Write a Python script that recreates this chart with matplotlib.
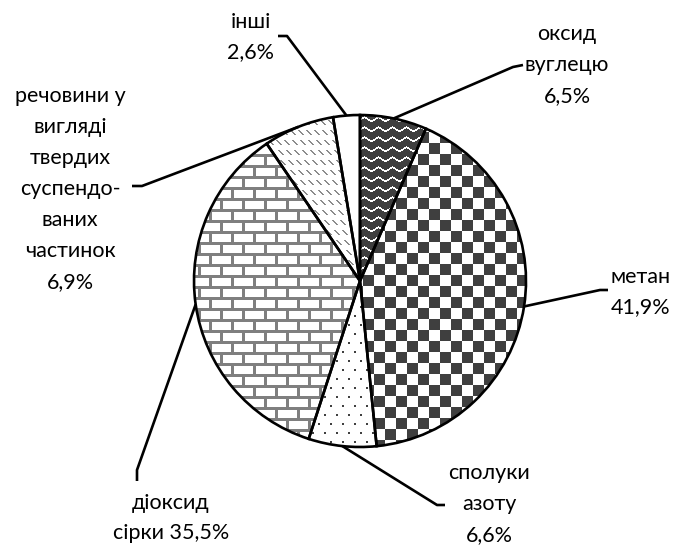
import numpy as np
import matplotlib
matplotlib.use("Agg")
import matplotlib.pyplot as plt

# data
names = ["оксид\nвуглецю", "метан", "сполуки\nазоту", "діоксид\nсірки",
         "речовини у\nвигляді\nтвердих\nсуспендо-\nваних\nчастинок", "інші"]
values = [6.5, 41.9, 6.6, 35.5, 6.9, 2.6]
joiners = ["\n", "\n", "\n", " ", "\n", "\n"]

W, H = 675, 545
cx, cy, R = 360, 281, 166   # pie centre / radius in pixels (y from top)

plt.rcParams["font.family"] = ["Lato", "DejaVu Sans"]

fig = plt.figure(figsize=(W / 100, H / 100), dpi=100)
ax = fig.add_axes([0, 0, 1, 1])


def P(x, y):
    # pixel (y from top) -> data coords
    return x, H - y


# fill patterns, built on the pixel grid
yy, xx = np.mgrid[0:H, 0:W]
dark = np.array([0.25, 0.25, 0.25])
grey = np.array([0.5, 0.5, 0.5])
white = np.array([1.0, 1.0, 1.0])


def paint(mask, fg, bg):
    img = np.empty((H, W, 3))
    img[:] = bg
    img[mask] = fg
    return img

# zigzag on dark
tri = np.abs(((xx % 14) - 7)) * 0.6
zig = ((yy + tri).astype(int) % 10) < 2
pat_zig = paint(zig, white, dark)
# checkerboard
chk = ((xx // 11) + (yy // 11)) % 2 == 0
pat_chk = paint(chk, dark, white)
# dots (staggered)
drow = yy // 9
doff = np.where(drow % 2 == 0, 0, 6)
dots = (((xx + doff) % 12) < 2) & ((yy % 9) < 2)
pat_dot = paint(dots, dark, white)
# bricks
row = yy // 11
off = np.where(row % 2 == 0, 0, 11)
brick = ((yy % 11) < 3) | (((xx + off) % 22) < 3)
pat_brk = paint(brick, grey, white)
# dashed diagonal
diag = (((xx - yy) % 8) < 2) & ((yy % 10) < 5)
pat_dia = paint(diag, np.array([0.55, 0.55, 0.55]), white)
pat_none = paint(np.zeros((H, W), bool), white, white)

patterns = [pat_zig, pat_chk, pat_dot, pat_brk, pat_dia, pat_none]

centre = P(cx, cy)
fills, _ = ax.pie(values, startangle=90, counterclock=False, center=centre,
                  radius=R, wedgeprops=dict(facecolor="white", edgecolor="none"))
for w, pat in zip(fills, patterns):
    im = ax.imshow(pat, extent=(0, W, 0, H), origin="upper",
                   interpolation="nearest", zorder=2)
    im.set_clip_path(w)

edges, _ = ax.pie(values, startangle=90, counterclock=False, center=centre,
                  radius=R, wedgeprops=dict(facecolor="none", edgecolor="black",
                                            linewidth=1.9, zorder=3))

# label text positions and leader bends (pixels)
text_pos = [(567, 65), (641, 292), (489, 504), (171, 518), (70, 189), (251, 37)]
bends = [[(513, 67), (523, 65)],
         [(600, 290), (608, 290)],
         [(437, 505), (445, 505)],
         [(137, 470), (137, 481)],
         [(142, 186), (132, 186)],
         [(287, 36), (278, 36)]]

for w, name, v, j, tp, bd in zip(edges, names, values, joiners, text_pos, bends):
    mid = np.deg2rad((w.theta1 + w.theta2) / 2)
    ex = centre[0] + R * np.cos(mid)
    ey = centre[1] + R * np.sin(mid)
    xs = [ex] + [P(*b)[0] for b in bd]
    ys = [ey] + [P(*b)[1] for b in bd]
    ax.plot(xs, ys, color="black", lw=1.9, zorder=4, solid_capstyle="butt")
    label = name + j + f"{v:.1f}".replace(".", ",") + "%"
    ax.text(*P(*tp), label, ha="center", va="center", fontsize=15.5,
            linespacing=1.68, color="black")

ax.set_xlim(0, W)
ax.set_ylim(0, H)
ax.set_aspect("auto")
ax.axis("off")

fig.savefig("out.png", dpi=100, facecolor="white")
